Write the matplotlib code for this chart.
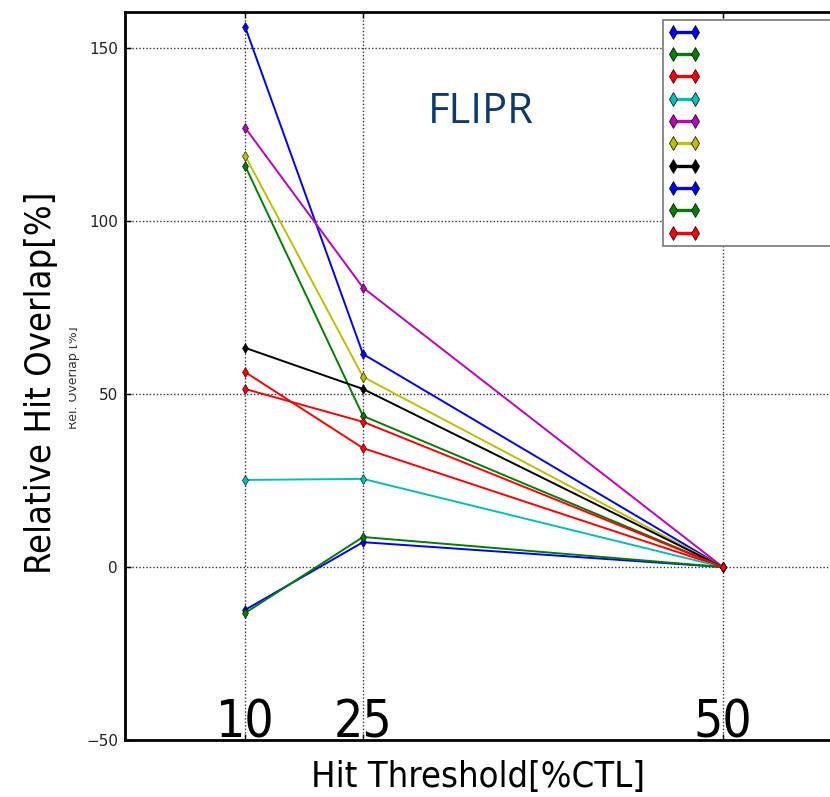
import matplotlib
matplotlib.use("Agg")
import matplotlib.pyplot as plt
from matplotlib.lines import Line2D
from matplotlib.transforms import blended_transform_factory, offset_copy

# --- data -----------------------------------------------------------------
thresholds = ["10", "25", "50"]  # hit threshold [%CTL]

# relative hit overlap [%] at thresholds 10 / 25 / 50 (legend order)
s1_blue = [156.3, 61.6, 0.0]
s2_green = [116.1, 43.7, 0.0]
s3_red = [56.4, 34.4, 0.0]
s4_cyan = [25.2, 25.5, 0.0]
s5_magenta = [127.1, 80.8, 0.0]
s6_yellow = [119.0, 55.0, 0.0]
s7_black = [63.4, 51.5, 0.0]
s8_blue = [-12.4, 7.2, 0.0]
s9_green = [-13.3, 8.7, 0.0]
s10_red = [51.5, 42.0, 0.0]

series = [s1_blue, s2_green, s3_red, s4_cyan, s5_magenta,
          s6_yellow, s7_black, s8_blue, s9_green, s10_red]
colors = ["b", "g", "r", "c", "m", "y", "k", "b", "g", "r"]

# the x axis is not linear in the threshold value: place the three
# thresholds where the original figure has them
x_pos = [0.0, 1.0, 4.05]

NARROW = dict(family="DejaVu Sans", fontstretch="condensed")

fig = plt.figure(figsize=(8.3, 7.97), dpi=100)
ax = fig.add_axes([125 / 830, 1 - 740 / 797, 735 / 830, 728 / 797])

for ys, c in zip(series, colors):
    ax.plot(x_pos, ys, color=c, lw=1.4, marker="d", markersize=5,
            markeredgecolor="k", markeredgewidth=0.4)

ax.set_xlim(-120 / 118, 615 / 118)
ax.set_ylim(-50, 160.5)
ax.set_yticks([-50, 0, 50, 100, 150])
ax.set_xticks(x_pos)
ax.set_xticklabels([])
ax.grid(True, color="#333", linestyle=(0, (1, 1.5)), linewidth=1.0)
ax.tick_params(direction="in", length=4, width=1, top=True, right=False,
               labelsize=11, labelcolor="#222", pad=5)
for side in ["left", "bottom", "top"]:
    ax.spines[side].set_linewidth(2)
ax.spines["right"].set_visible(False)

# big threshold labels sitting just above the bottom axis
tr = offset_copy(blended_transform_factory(ax.transData, ax.transAxes),
                 fig=fig, x=0, y=3, units="dots")
for xp, lab in zip(x_pos, thresholds):
    ax.text(xp, 0, lab, transform=tr, ha="center", va="baseline",
            fontsize=37, color="k", **NARROW)

fig.text(478 / 830, 1 - 777 / 797, "Hit Threshold[%CTL]", ha="center",
         va="center", fontsize=26, **NARROW)

# old small label, partly hidden behind the big one
fig.text(73 / 830, 1 - 378 / 797, "Rel. Overlap [%]", rotation=90,
         ha="center", va="center", fontsize=9, color="#333")
fig.text(41 / 830, 1 - 383 / 797, "Relative Hit Overlap[%]", rotation=90,
         ha="center", va="center", fontsize=26,
         bbox=dict(facecolor="white", edgecolor="none", pad=8), **NARROW)

ax.text(481 / 830, 1 - 112 / 797, "FLIPR", transform=fig.transFigure,
        ha="center", va="center", fontsize=30, family="Open Sans",
        color="#0d3a6e")

handles = [Line2D([], [], color=c, lw=2.4, marker="d", markersize=7,
                  markeredgecolor="k", markeredgewidth=0.5) for c in colors]
leg = ax.legend(handles, [" " * 30] * len(handles), loc="upper left",
                bbox_to_anchor=(663 / 830, 1 - 20 / 797),
                bbox_transform=fig.transFigure, borderaxespad=0,
                numpoints=2, fontsize=10, handlelength=2.2,
                labelspacing=0.6, borderpad=0.4, fancybox=False,
                framealpha=1)
leg.get_frame().set_edgecolor("#777")
leg.get_frame().set_linewidth(1.2)

fig.savefig("out.png", dpi=100)
